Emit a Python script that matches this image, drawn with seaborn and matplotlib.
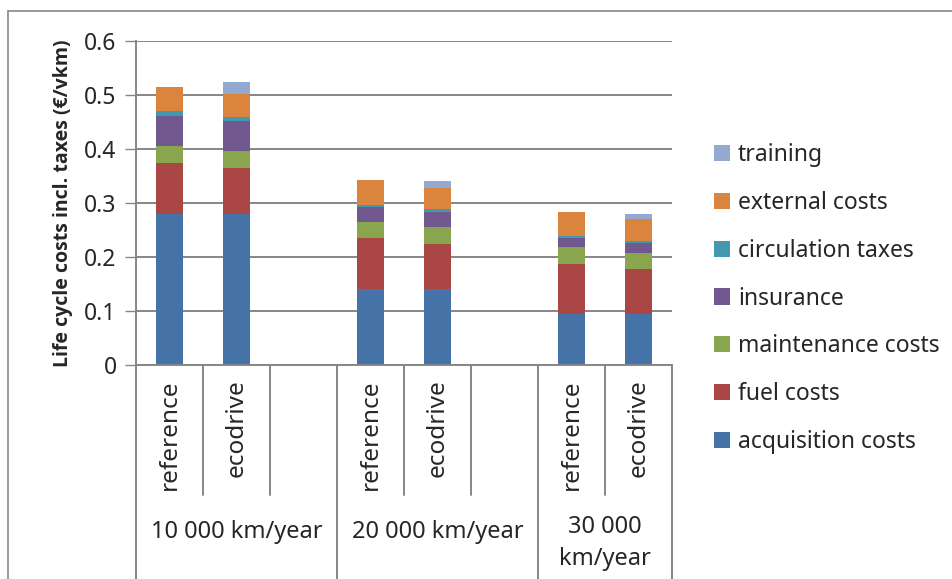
"""Life cycle costs per vkm: reference vs ecodrive, stacked by cost component."""
import numpy as np
import pandas as pd
import matplotlib
matplotlib.use("Agg")
import matplotlib.pyplot as plt
import matplotlib.transforms as mtrans
from matplotlib.patches import Patch
from matplotlib.lines import Line2D
import seaborn as sns

# --- data -------------------------------------------------------------------
scenarios = ["reference", "ecodrive"]
groups = ["10 000 km/year", "20 000 km/year", "30 000\nkm/year"]
components = ["acquisition costs", "fuel costs", "maintenance costs", "insurance",
              "circulation taxes", "external costs", "training"]
# one value per bar: 10k ref, 10k eco, 20k ref, 20k eco, 30k ref, 30k eco
acquisition = [0.280, 0.280, 0.140, 0.140, 0.094, 0.094]
fuel = [0.095, 0.085, 0.095, 0.085, 0.093, 0.084]
maintenance = [0.031, 0.031, 0.030, 0.030, 0.031, 0.030]
insurance = [0.056, 0.056, 0.027, 0.029, 0.017, 0.018]
circulation = [0.008, 0.008, 0.005, 0.004, 0.004, 0.004]
external = [0.045, 0.042, 0.045, 0.040, 0.044, 0.041]
training = [0.000, 0.022, 0.000, 0.013, 0.000, 0.008]

colors = ["#4572A7", "#AA4643", "#89A54E", "#71588F", "#4198AF", "#DB843D", "#93A9CF"]

# slots on the category axis (empty gap slot after the first two groups)
slots = ["10-ref", "10-eco", "10-gap", "20-ref", "20-eco", "20-gap", "30-ref", "30-eco"]
bar_slots = [s for s in slots if "gap" not in s]

vals = np.array([acquisition, fuel, maintenance, insurance, circulation, external, training])
cum = vals.cumsum(axis=0)
rows = []
for ci, comp in enumerate(components):
    for bi, s in enumerate(bar_slots):
        rows.append({"slot": s, "component": comp, "top": cum[ci, bi]})
df = pd.DataFrame(rows)

# --- figure -------------------------------------------------------------------
sns.set_theme(style="white")
plt.rcParams["font.family"] = ["Noto Sans", "DejaVu Sans"]
FS = 16.5
GRID = "#868686"

fig = plt.figure(figsize=(9.52, 5.79), dpi=100)
ax = fig.add_axes([136 / 952, 1 - 365 / 579, (672 - 136) / 952, 324 / 579])

# stacked bars: draw cumulative tops from the highest layer down
for ci in range(len(components) - 1, -1, -1):
    sub = df[df.component == components[ci]]
    sns.barplot(data=sub, x="slot", y="top", order=slots, color=colors[ci],
                width=0.4, linewidth=0, saturation=1, ax=ax, errorbar=None)

ax.set_ylim(0, 0.6)
ax.set_xlim(-0.5, len(slots) - 0.5)
ax.set_yticks(np.arange(0, 0.61, 0.1))
ax.set_yticklabels(["0", "0.1", "0.2", "0.3", "0.4", "0.5", "0.6"], fontsize=FS)
ax.yaxis.grid(True, color=GRID, lw=1.4)
ax.set_axisbelow(True)
ax.tick_params(axis="y", length=8, width=1, color=GRID, pad=6, left=True)
ax.tick_params(axis="x", bottom=False, labelbottom=False)
ax.set_xlabel("")
ax.set_ylabel("Life cycle costs incl. taxes (€/vkm)", fontsize=14,
              fontweight="bold", family=["Open Sans", "DejaVu Sans"], labelpad=8)
for side in ["top", "right"]:
    ax.spines[side].set_visible(False)
for side in ["left", "bottom"]:
    ax.spines[side].set_color(GRID)
    ax.spines[side].set_linewidth(1.4)

# multi-level category labels
tr = mtrans.blended_transform_factory(ax.transData, ax.transAxes)
for i, s in enumerate(slots):
    if "gap" in s:
        continue
    lab = scenarios[0] if s.endswith("ref") else scenarios[1]
    ax.text(i, -0.045, lab, rotation=90, ha="center", va="top", fontsize=FS + 1,
            transform=tr, clip_on=False)
for x in [0.5, 1.5, 3.5, 4.5, 6.5]:
    ax.plot([x, x], [0, -0.40], color=GRID, lw=1.4, transform=tr, clip_on=False)
for x in [-0.5, 2.5, 5.5, 7.5]:
    ax.plot([x, x], [0, -0.75], color=GRID, lw=1.4, transform=tr, clip_on=False)
for x, g in zip([1, 4, 6.5], groups):
    y = -0.515 if "\n" not in g else -0.55
    ax.text(x, y, g, ha="center", va="center", fontsize=FS + 0.5, transform=tr,
            clip_on=False, linespacing=1.45)

# legend, top layer first
handles = [Patch(facecolor=colors[i], edgecolor="none") for i in range(len(components))][::-1]
fig.legend(handles, components[::-1], loc="center left",
           bbox_to_anchor=(714 / 952, 1 - 298.5 / 579), frameon=False, fontsize=FS,
           handlelength=0.7, handleheight=0.7, handletextpad=0.35, labelspacing=1.04,
           borderpad=0, borderaxespad=0)

# outer chart frame
fig.add_artist(Line2D([8 / 952, 1], [1 - 11 / 579] * 2, color="#888888", lw=1.2))
fig.add_artist(Line2D([8 / 952] * 2, [0, 1 - 11 / 579], color="#888888", lw=1.2))

fig.savefig("out.png", dpi=100)
